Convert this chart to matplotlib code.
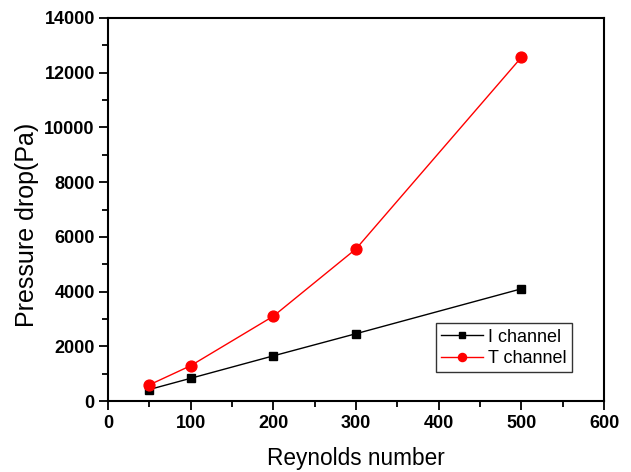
import matplotlib
matplotlib.use("Agg")
import matplotlib.pyplot as plt
from matplotlib.ticker import MultipleLocator

plt.rcParams['font.family'] = ['Liberation Sans', 'DejaVu Sans']

reynolds = [50, 100, 200, 300, 500]
i_channel = [420, 830, 1650, 2460, 4100]
t_channel = [590, 1290, 3100, 5560, 12560]

fig = plt.figure(figsize=(6.31, 4.72), dpi=100)
ax = fig.add_axes([108/631, 1 - 401/472, (604-108)/631, (401-18)/472])

ax.plot(reynolds, i_channel, color='black', lw=1, marker='s', ms=6.3, label='I channel')
ax.plot(reynolds, t_channel, color='red', lw=1, marker='o', ms=7.8, label='T channel')

ax.set_xlim(0, 600)
ax.set_ylim(0, 14000)
ax.xaxis.set_major_locator(MultipleLocator(100))
ax.xaxis.set_minor_locator(MultipleLocator(50))
ax.yaxis.set_major_locator(MultipleLocator(2000))
ax.yaxis.set_minor_locator(MultipleLocator(1000))
ax.tick_params(which='major', direction='out', length=6.5, width=1.3, labelsize=13)
ax.tick_params(axis='x', which='major', pad=3.6)
ax.tick_params(axis='y', which='major', pad=3)
ax.tick_params(which='minor', direction='out', length=4.3, width=1.3)
for lab in ax.get_xticklabels() + ax.get_yticklabels():
    lab.set_fontweight('bold')
for s in ax.spines.values():
    s.set_linewidth(1.5)

ax.set_xlabel('Reynolds number', fontsize=16.3, labelpad=11)
ax.set_ylabel('Pressure drop(Pa)', fontsize=18, labelpad=4)
ax.yaxis.label.set_y(0.46)

leg = ax.legend(loc='lower right', bbox_to_anchor=(0.954, 0.051), fontsize=13,
                frameon=True, fancybox=False, edgecolor='black', borderpad=0.3,
                handlelength=2.3, handletextpad=0.3, labelspacing=0.25,
                markerscale=0.75)
leg.get_frame().set_linewidth(1)

fig.savefig('out.png', dpi=100)
